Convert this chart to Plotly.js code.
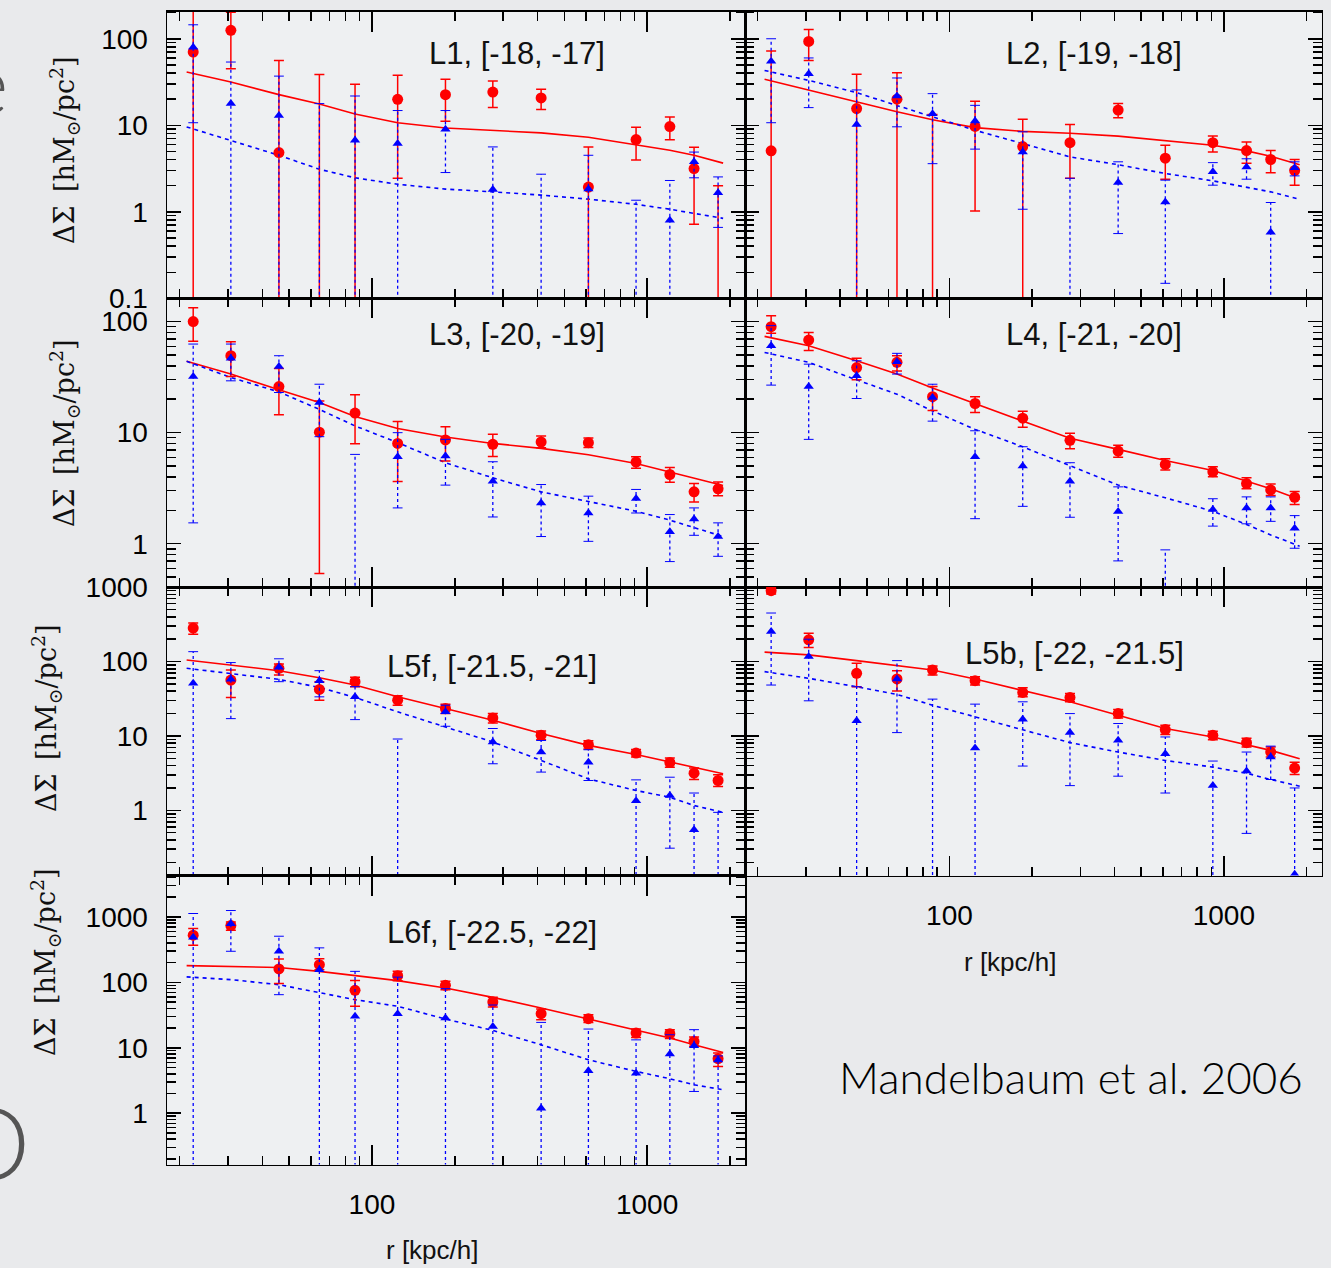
<!DOCTYPE html>
<html><head><meta charset="utf-8">
<script src="https://cdn.plot.ly/plotly-3.0.1.min.js"></script>
<style>html,body{margin:0;padding:0;background:#e8e9eb;} #chart{width:1331px;height:1268px;}</style>
</head><body><div id="chart"></div>
<script>
// ---------- data ----------
const rKpc   = [22.4, 30.7, 45.9, 64.4, 86.8, 124, 185, 275, 412, 612, 912, 1210, 1482, 1812];
const modelR = [21.2, 30.7, 45.9, 64.4, 86.8, 124, 185, 275, 412, 612, 912, 1210, 1482, 1890];
const panelTitles = ['L1, [-18, -17]', 'L2, [-19, -18]', 'L3, [-20, -19]', 'L4, [-21, -20]',
                     'L5f, [-21.5, -21]', 'L5b, [-22, -21.5]', 'L6f, [-22.5, -22]'];

// L1
const L1_red   = [70.2, 125, 4.84, 0.05, 0.05, 19.95, 22.6, 24.2, 20.7, 1.93, 6.83, 9.66, 3.16, 0.05];
const L1_redHi = [1000, 203, 56, 38.7, 29.7, 37.8, 34, 32.5, 26, 5.6, 9.5, 12.5, 5.57, 2.0];
const L1_redLo = [0.01, 45, 0.01, 0.01, 0.01, 2.44, 11.1, 16, 15.2, 0.01, 3.98, 6.8, 0.72, 0.01];
const L1_blue   = [80, 17.8, 13, 0.05, 6.7, 6.14, 9, 1.81, 0.05, 1.83, 0.05, 0.8, 3.78, 1.66];
const L1_blueHi = [145, 53.8, 37, 17.8, 21.8, 14.8, 14.8, 5.62, 2.72, 4.5, 1.36, 2.3, 4.9, 2.53];
const L1_blueLo = [10.7, 0.01, 0.01, 0.01, 0.01, 0.01, 2.84, 0.01, 0.01, 0.01, 0.01, 0.01, 2.47, 0.66];
const L1_modelRed  = [41.2, 31.6, 22.6, 17.6, 13.5, 10.7, 9.3, 8.67, 8.16, 7.27, 5.98, 5.15, 4.51, 3.65];
const L1_modelBlue = [9.57, 6.7, 4.5, 3.1, 2.47, 2.08, 1.83, 1.7, 1.56, 1.4, 1.22, 1.07, 0.96, 0.84];

// L2
const L2_red   = [5.06, 93, 15.6, 20, 0.05, 9.7, 5.67, 6.3, 15, 4.16, 6.3, 5.1, 4.02, 3.0];
const L2_redHi = [72, 128, 39, 40.5, 13.3, 18.9, 11.7, 10.2, 17.8, 5.88, 7.5, 6.42, 5.1, 4.02];
const L2_redLo = [0.01, 56, 0.01, 0.01, 0.01, 1.02, 0.01, 2.44, 12.2, 2.38, 4.92, 3.65, 2.82, 2.03];
const L2_blue   = [55, 39.5, 10.2, 21.8, 13.6, 11.2, 4.92, 0.05, 2.18, 1.3, 2.9, 3.3, 0.58, 3.22];
const L2_blueHi = [100, 60, 25.6, 35.2, 23.2, 17, 8.4, 2.44, 3.78, 2.32, 3.7, 4.1, 1.28, 3.78];
const L2_blueLo = [10.7, 16, 0.01, 9.6, 3.6, 5.3, 1.07, 0.01, 0.56, 0.149, 2.03, 2.38, 0.01, 2.6];
const L2_modelRed  = [34, 25.4, 18.6, 14.3, 11.6, 9.4, 8.5, 8.1, 7.5, 6.7, 5.88, 5.06, 4.39, 3.5];
const L2_modelBlue = [43, 33, 23.8, 17, 12.5, 8.75, 6.14, 4.31, 3.5, 2.77, 2.28, 1.94, 1.7, 1.39];

// L3
const L3_red   = [100, 49.3, 26, 10.1, 15, 8.0, 8.6, 7.85, 8.24, 8.13, 5.43, 4.2, 2.93, 3.12];
const L3_redHi = [133, 66, 37.9, 19.3, 22, 12.6, 11.3, 9.7, 9.33, 8.96, 6.07, 4.86, 3.48, 3.6];
const L3_redLo = [66.4, 32, 14.5, 0.54, 7.96, 3.63, 5.55, 6.1, 7.3, 7.36, 4.77, 3.58, 2.38, 2.7];
const L3_blue   = [32, 46.7, 39.5, 18.7, 0.03, 6.07, 6.15, 3.66, 2.33, 1.89, 2.55, 1.28, 1.67, 1.16];
const L3_blueHi = [62.8, 62.8, 49.3, 27.3, 6.37, 10, 8.7, 5.47, 3.41, 2.68, 3.08, 1.83, 2.1, 1.54];
const L3_blueLo = [1.54, 29.3, 23, 9.2, 0.01, 2.1, 3.37, 1.74, 1.16, 1.05, 1.89, 0.69, 1.19, 0.77];
const L3_modelRed  = [43.9, 33.7, 24.3, 18.7, 14, 10.9, 9.14, 8.0, 7.22, 6.32, 5.28, 4.44, 3.92, 3.34];
const L3_modelBlue = [43.9, 31.4, 23.3, 16.2, 11.5, 8.13, 5.36, 3.92, 2.93, 2.41, 1.96, 1.63, 1.39, 1.16];

// L4
const L4_red   = [90, 68.2, 38.6, 43, 21.1, 18.3, 13.5, 8.53, 6.83, 5.17, 4.44, 3.48, 3.05, 2.62];
const L4_redHi = [113, 80, 46.7, 49.3, 26, 21.1, 15.6, 9.86, 7.69, 5.82, 4.93, 3.92, 3.44, 2.95];
const L4_redLo = [78.5, 55, 29.9, 36, 15.8, 15.2, 11.2, 7.16, 5.99, 4.6, 4.0, 3.12, 2.72, 2.26];
const L4_blue   = [60.7, 26, 32.5, 43.6, 20.7, 6.07, 5.0, 3.66, 1.95, 0.03, 2.03, 2.1, 2.1, 1.38];
const L4_blueHi = [92, 41.4, 44.4, 51.8, 27.3, 10.4, 7.47, 5.36, 3.25, 0.88, 2.54, 2.64, 2.64, 1.79];
const L4_blueLo = [26.8, 8.7, 20.3, 33.7, 12.7, 1.68, 2.17, 1.73, 0.70, 0.01, 1.44, 1.51, 1.59, 0.91];
const L4_modelRed  = [73.6, 60.7, 44.4, 33.7, 25.2, 18.3, 12.6, 8.9, 7.07, 5.62, 4.57, 3.66, 3.12, 2.5];
const L4_modelBlue = [52.8, 43, 29.9, 22.2, 15.7, 10.7, 7.47, 5.0, 3.37, 2.59, 1.96, 1.49, 1.2, 0.95];

// L5f
const L5f_red   = [282, 56.5, 81.3, 42.3, 53.7, 30.3, 23.4, 17.5, 10.2, 7.64, 5.89, 4.4, 3.16, 2.52];
const L5f_redHi = [330, 77, 93, 53.7, 61.4, 34.8, 26.8, 20, 11.7, 8.65, 6.6, 5.05, 3.7, 3.0];
const L5f_redLo = [234, 33, 66, 30.3, 45.9, 25.9, 20, 15, 8.9, 6.67, 5.2, 3.81, 2.6, 2.09];
const L5f_blue   = [51, 57.7, 83.8, 55.4, 33.6, 0.03, 21.1, 8.3, 6.08, 4.45, 1.35, 1.58, 0.55, 0.03];
const L5f_blueHi = [136, 97, 109, 75.5, 46, 9.1, 25.9, 12.6, 8.7, 6.53, 2.57, 2.79, 1.71, 0.94];
const L5f_blueLo = [0.01, 17.1, 53.7, 33.6, 16.6, 0.01, 13.5, 4.23, 3.27, 2.52, 0.01, 0.31, 0.01, 0.01];
const L5f_modelRed  = [105, 90, 75.5, 60.8, 48.4, 33.6, 23.4, 16.3, 10.8, 7.48, 5.65, 4.45, 3.73, 3.1];
const L5f_modelBlue = [81.3, 69.5, 57.7, 45, 33, 21.1, 13.2, 8.3, 4.69, 2.65, 1.85, 1.5, 1.16, 0.94];

// L5b
const L5b_red   = [900, 196, 69.5, 58.4, 77, 55.4, 38.5, 33, 20, 12.2, 10.2, 8.13, 6.08, 3.7];
const L5b_redHi = [990, 241, 95, 75.5, 87.3, 62.7, 44.6, 37.3, 22.7, 13.9, 11.6, 9.3, 7.1, 4.45];
const L5b_redLo = [810, 155, 45.9, 40.2, 66, 48.4, 33.6, 28.8, 17.5, 10.5, 8.9, 7.1, 5.2, 3.03];
const L5b_blue   = [254, 117, 16, 58.4, 0.03, 6.89, 16.8, 11.1, 8.73, 5.77, 2.15, 3.37, 5.2, 0.138];
const L5b_blueHi = [450, 200, 46, 103, 31.3, 26.8, 28.8, 20, 14.7, 9.7, 4.6, 6.08, 7.3, 2.0];
const L5b_blueLo = [48.4, 29.7, 0.01, 11.1, 0.01, 0.01, 3.94, 2.15, 2.88, 1.71, 0.01, 0.49, 2.6, 0.01];
const L5b_modelRed  = [134, 123, 103, 89, 77, 58.4, 41.4, 28.8, 19, 12.6, 9.7, 7.7, 6.4, 4.94];
const L5b_modelBlue = [73.3, 59.6, 45.9, 36.2, 25.9, 18.1, 11.9, 8.13, 6.08, 4.69, 3.81, 3.16, 2.6, 2.11];

// L6f
const L6f_red   = [524, 736, 160, 186, 75.5, 126, 90, 50, 33.1, 27.8, 16.8, 16.4, 12.5, 6.8];
const L6f_redHi = [662, 838, 227, 230, 107, 147, 104, 58.9, 39, 32, 19.3, 18.9, 14.6, 8.3];
const L6f_redLo = [368, 625, 95.5, 156, 43, 106, 77, 41.9, 26.8, 24.4, 14.4, 13.9, 10.5, 5.17];
const L6f_blue   = [488, 782, 298, 156, 30.2, 33.1, 28.4, 21.2, 1.19, 4.45, 4.09, 8.0, 10.7, 6.5];
const L6f_blueHi = [1125, 1250, 506, 336, 147, 120, 80, 45, 24.4, 19.3, 13.2, 15.8, 18.9, 7.5];
const L6f_blueLo = [0.01, 298, 64.7, 0.01, 0.01, 0.01, 0.01, 0.01, 0.01, 0.01, 0.01, 0.01, 2.15, 0.01];
const L6f_modelRed  = [180, 176, 168, 147, 126, 106, 81.9, 58.9, 40.5, 27.5, 18.2, 14.1, 11.1, 8.49];
const L6f_modelBlue = [121, 110, 92, 70.3, 54.3, 43, 27.5, 18.4, 11.1, 6.55, 4.35, 3.36, 2.72, 2.28];

// ---------- geometry / style ----------
const W = 1331, H = 1268;
const colPx = [[167, 745], [745, 1321.5]];
const rowPx = [[11.5, 298.3], [298.3, 587], [587, 875.5], [875.5, 1164.5]];
const yRanges = [[-1, 2.315], [-0.39, 2.21], [-0.876, 3.003], [-0.784, 3.632]];
const xRange = [1.255, 3.356];
const SANS = 'Liberation Sans, Arial, Helvetica, sans-serif';
const SERIF = 'DejaVu Serif, Liberation Serif, serif';
const RED = '#ff0000', BLUE = '#0000ff';

const panelData = [
  [L1_red, L1_redHi, L1_redLo, L1_blue, L1_blueHi, L1_blueLo, L1_modelRed, L1_modelBlue],
  [L2_red, L2_redHi, L2_redLo, L2_blue, L2_blueHi, L2_blueLo, L2_modelRed, L2_modelBlue],
  [L3_red, L3_redHi, L3_redLo, L3_blue, L3_blueHi, L3_blueLo, L3_modelRed, L3_modelBlue],
  [L4_red, L4_redHi, L4_redLo, L4_blue, L4_blueHi, L4_blueLo, L4_modelRed, L4_modelBlue],
  [L5f_red, L5f_redHi, L5f_redLo, L5f_blue, L5f_blueHi, L5f_blueLo, L5f_modelRed, L5f_modelBlue],
  [L5b_red, L5b_redHi, L5b_redLo, L5b_blue, L5b_blueHi, L5b_blueLo, L5b_modelRed, L5b_modelBlue],
  [L6f_red, L6f_redHi, L6f_redLo, L6f_blue, L6f_blueHi, L6f_blueLo, L6f_modelRed, L6f_modelBlue]
];
const panelPos = [[0,0],[0,1],[1,0],[1,1],[2,0],[2,1],[3,0]]; // [row, col]
const titlePx = [[517,54],[1094,54],[517,334],[1094,334],[492,667],[1074,653],[492,932]];

const px2x = p => p / W, px2y = p => 1 - p / H;

const traces = [];
const layout = {
  width: W, height: H, margin: {l:0, r:0, t:0, b:0},
  paper_bgcolor: '#e9eaec', plot_bgcolor: '#eef0f2',
  showlegend: false, annotations: []
};

panelData.forEach((d, i) => {
  const [red, redHi, redLo, blue, blueHi, blueLo, mRed, mBlue] = d;
  const n = i + 1, sfx = n === 1 ? '' : String(n);
  const xa = 'x' + sfx, ya = 'y' + sfx;
  const [row, col] = panelPos[i];

  traces.push({type:'scatter', x: modelR, y: mRed, xaxis: xa, yaxis: ya, mode:'lines',
    line:{color: RED, width: 1.6}, hoverinfo:'skip'});
  traces.push({type:'scatter', x: modelR, y: mBlue, xaxis: xa, yaxis: ya, mode:'lines',
    line:{color: BLUE, width: 1.6, dash:'4px,4px'}, hoverinfo:'skip'});
  traces.push({type:'scatter', x: rKpc, y: red, xaxis: xa, yaxis: ya, mode:'markers',
    marker:{symbol:'circle', size:11, color: RED},
    error_y:{type:'data', symmetric:false, array: redHi.map((h,k)=>h-red[k]),
      arrayminus: red.map((v,k)=>v-redLo[k]), color: RED, thickness:1.5, width:5},
    hoverinfo:'skip'});
  const ex = [], ey = [];
  rKpc.forEach((x,k) => { ex.push(x, x, null); ey.push(blueLo[k], blueHi[k], null); });
  traces.push({type:'scatter', x: ex, y: ey, xaxis: xa, yaxis: ya, mode:'lines',
    line:{color: BLUE, width:1.3, dash:'3px,3px'}, hoverinfo:'skip'});
  traces.push({type:'scatter', x: rKpc.concat(rKpc), y: blueHi.concat(blueLo), xaxis: xa, yaxis: ya,
    mode:'markers', marker:{symbol:'line-ew', size:7, color: BLUE, line:{width:1, color: BLUE}}, hoverinfo:'skip'});
  traces.push({type:'scatter', x: rKpc, y: blue, xaxis: xa, yaxis: ya, mode:'markers',
    marker:{symbol:'triangle-up', size:9, color: BLUE}, hoverinfo:'skip'});

  const common = {type:'log', showline:true, linecolor:'#000', linewidth:1.5, mirror:'allticks',
    ticks:'inside', tickcolor:'#000', tickwidth:1.5, tickmode:'linear', tick0:0, dtick:1,
    showgrid:false, zeroline:false, exponentformat:'none', fixedrange:true,
    tickfont:{family: SANS, size:28, color:'#000'}};
  layout['xaxis' + sfx] = Object.assign({}, common, {
    range: xRange, domain: [px2x(colPx[col][0]), px2x(colPx[col][1])], anchor: ya,
    ticklen: 20, minor:{dtick:'D1', ticks:'inside', ticklen:9, tickwidth:1.5, tickcolor:'#000', showgrid:false},
    showticklabels: (n === 6 || n === 7), ticklabelstandoff: 14});
  layout['yaxis' + sfx] = Object.assign({}, common, {
    range: yRanges[row], domain: [px2y(rowPx[row][1]), px2y(rowPx[row][0])], anchor: xa,
    ticklen: 14, minor:{dtick:'D1', ticks:'inside', ticklen:9, tickwidth:1.5, tickcolor:'#000', showgrid:false},
    showticklabels: col === 0, ticklabelstandoff: 12});

  layout.annotations.push({text: panelTitles[i], xref:'paper', yref:'paper',
    x: px2x(titlePx[i][0]), y: px2y(titlePx[i][1]), xanchor:'center', yanchor:'middle',
    showarrow:false, font:{family: SANS, size:31, color:'#111'}});
});

const yTitle = 'ΔΣ\u2002[hM<sub>⊙</sub>/pc<sup>2</sup>]';
[[64,150],[64,433],[46,718],[46,962]].forEach(p => layout.annotations.push({
  text: yTitle, xref:'paper', yref:'paper', x: px2x(p[0]), y: px2y(p[1]),
  xanchor:'center', yanchor:'middle', textangle:-90, showarrow:false,
  font:{family: SERIF, size:27, color:'#111'}}));
[[432,1250],[1010,962]].forEach(p => layout.annotations.push({
  text:'r [kpc/h]', xref:'paper', yref:'paper', x: px2x(p[0]), y: px2y(p[1]),
  xanchor:'center', yanchor:'middle', showarrow:false, font:{family: SANS, size:26, color:'#111'}}));
layout.annotations.push({text:'Mandelbaum et al. 2006', xref:'paper', yref:'paper',
  x: px2x(1071), y: px2y(1077), xanchor:'center', yanchor:'middle', showarrow:false,
  font:{family:'Lato, Open Sans, sans-serif', size:44, weight:300, color:'#000'}});
// fragments of the slide's big title letters at the left edge
layout.annotations.push({text:'e', xref:'paper', yref:'paper', x: px2x(10), y: px2y(81),
  xanchor:'right', yanchor:'middle', showarrow:false,
  font:{family:'Lato, sans-serif', size:85, weight:300, color:'#555'}});
layout.annotations.push({text:'O', xref:'paper', yref:'paper', x: px2x(32), y: px2y(1141),
  xanchor:'right', yanchor:'middle', showarrow:false,
  font:{family:'Lato, sans-serif', size:100, weight:300, color:'#555'}});

Plotly.newPlot('chart', traces, layout, {displayModeBar:false, staticPlot:true});
</script></body></html>
